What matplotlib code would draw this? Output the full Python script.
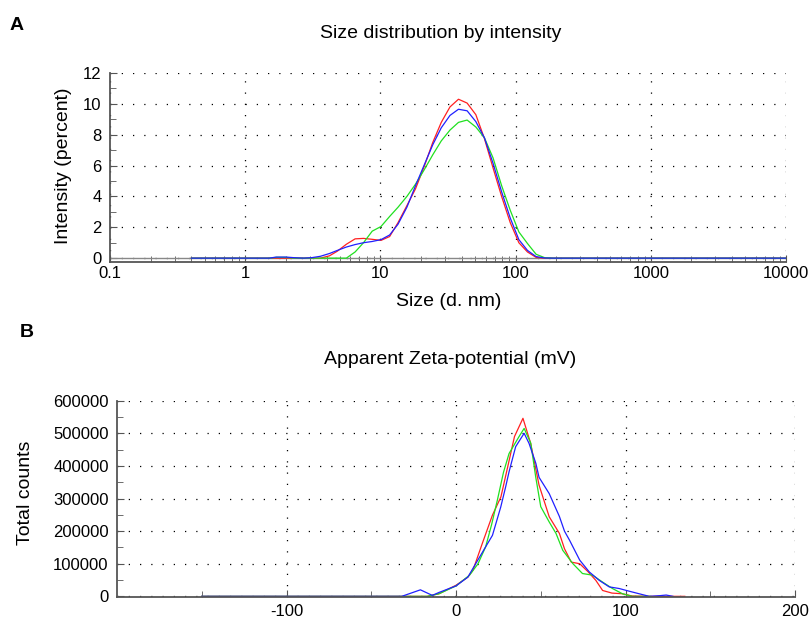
import numpy as np
import matplotlib
matplotlib.use("Agg")
import matplotlib.pyplot as plt
from matplotlib.ticker import FixedLocator, FuncFormatter

plt.rcParams['font.family'] = ['Liberation Sans', 'DejaVu Sans']
plt.rcParams['axes.unicode_minus'] = False

# --- A: size distribution by intensity (3 runs) ---
size_nm = [0.4, 1.5, 1.7, 2.0, 2.3, 2.7, 3.1, 3.6, 4.2, 4.8, 5.6, 6.5, 7.5, 8.7,
           10.1, 11.7, 13.5, 15.7, 18.2, 21.0, 24.4, 28.2, 32.7, 37.8, 43.8,
           50.8, 58.8, 68.1, 78.8, 91.3, 105.7, 122.4, 141.8, 164.2, 190.1, 10000]
int_red = [0, 0, 0, 0, 0, 0, 0, 0, 0.15, 0.45, 0.9, 1.25, 1.28, 1.22,
           1.15, 1.4, 2.3, 3.4, 4.5, 5.9, 7.5, 8.8, 9.8, 10.3, 10.05,
           9.3, 7.75, 5.85, 4.0, 2.3, 1.0, 0.4, 0.05, 0, 0, 0]
int_green = [0, 0, 0.05, 0.05, 0, 0, 0, 0, 0, 0, 0, 0.4, 1.0, 1.75,
             2.05, 2.7, 3.3, 4.0, 4.8, 5.7, 6.7, 7.6, 8.3, 8.8, 8.95,
             8.5, 7.8, 6.5, 4.7, 3.1, 1.7, 0.95, 0.25, 0.03, 0, 0]
int_blue = [0, 0, 0.07, 0.07, 0.03, 0, 0.03, 0.12, 0.3, 0.5, 0.72, 0.88, 1.0, 1.08,
            1.2, 1.5, 2.2, 3.3, 4.7, 6.0, 7.35, 8.45, 9.25, 9.65, 9.55,
            8.85, 7.8, 6.15, 4.3, 2.6, 1.2, 0.5, 0.1, 0.01, 0, 0]

# --- B: apparent zeta potential (3 runs) ---
zeta_red = [-150, -17, -10, 0, 7, 10, 15.5, 21.5, 26.5, 30.5, 34.5, 39.5, 44, 49,
            55, 61, 64, 68, 73, 78, 82.5, 86.5, 92, 98, 104, 114, 135]
counts_red = [0, 0, 8000, 34000, 59000, 80000, 162000, 249000, 305000, 397000,
              490000, 546000, 470000, 341000, 244000, 193000, 146000, 105000,
              100000, 75000, 49000, 18000, 10000, 8000, 1000, 0, 0]
zeta_green = [-150, -17, -10, 0, 8, 13, 17.5, 21, 24.4, 28, 31.3, 37.2, 40.2, 44.1,
              47, 50, 55, 59, 63, 69, 74.6, 80.5, 86.4, 92.3, 98.2, 104, 115]
counts_green = [0, 0, 8000, 32000, 65000, 100000, 152000, 220000, 295000, 380000,
                438000, 490000, 515000, 470000, 367000, 275000, 228000, 193000,
                141000, 100000, 70000, 65000, 44000, 24000, 8000, 0, 0]
zeta_blue = [-150, -32, -21, -14, -10, 0, 7, 11.6, 17.5, 21.5, 26.4, 29.3, 31.3,
             35.2, 40.2, 43.1, 47.1, 49, 55, 61, 64, 67, 73, 78.6, 84.5, 90.4,
             96.3, 102, 108, 114, 120, 124, 128]
counts_blue = [0, 0, 20000, 3000, 12000, 32000, 59000, 100000, 152000, 187000,
               274000, 336000, 382000, 459000, 500000, 469000, 408000, 365000,
               315000, 245000, 200000, 172000, 111000, 75000, 49000, 29000,
               24000, 16000, 8000, 0, 2000, 4000, 0]

RED, GREEN, BLUE = '#ff2020', '#20e020', '#2020ff'
SPINE = '#555555'
W, H = 809, 619


def style_axes(ax):
    for s in ['top', 'right']:
        ax.spines[s].set_visible(False)
    for s in ['left', 'bottom']:
        ax.spines[s].set_color(SPINE)
        ax.spines[s].set_linewidth(1.3)
    ax.tick_params(which='both', direction='in', color=SPINE, labelsize=12)
    ax.tick_params(which='major', length=5)
    ax.tick_params(which='minor', length=4)
    ax.grid(True, which='major', color='black', linestyle=(0, (1, 8)), linewidth=0.9)


fig = plt.figure(figsize=(W / 100, H / 100), dpi=100)

# panel A
ax1 = fig.add_axes([110 / W, 1 - 262 / H, 676 / W, 189 / H])
ax1.set_xscale('log')
ax1.set_xlim(0.1, 10000)
ax1.set_ylim(-0.25, 12)
ax1.axhline(0, color='#888888', lw=1.0)
ax1.plot(size_nm, int_red, color=RED, lw=0.9)
ax1.plot(size_nm, int_green, color=GREEN, lw=0.9)
ax1.plot(size_nm, int_blue, color=BLUE, lw=0.9)
style_axes(ax1)
ax1.xaxis.set_major_locator(FixedLocator([0.1, 1, 10, 100, 1000, 10000]))
ax1.xaxis.set_major_formatter(FuncFormatter(lambda v, p: f'{v:g}'))
ax1.yaxis.set_major_locator(FixedLocator([0, 2, 4, 6, 8, 10, 12]))
ax1.yaxis.set_minor_locator(FixedLocator([1, 3, 5, 7, 9, 11]))
ax1.tick_params(axis='x', pad=3)
ax1.tick_params(axis='y', pad=6)

# panel B
ax2 = fig.add_axes([117 / W, 1 - 597 / H, 678 / W, 196.3 / H])
ax2.set_xlim(-200, 200)
ax2.set_ylim(-2000, 600000)
ax2.plot(zeta_red, counts_red, color=RED, lw=0.9)
ax2.plot(zeta_green, counts_green, color=GREEN, lw=0.9)
ax2.plot(zeta_blue, counts_blue, color=BLUE, lw=0.9)
style_axes(ax2)
ax2.xaxis.set_major_locator(FixedLocator([-100, 0, 100, 200]))
ax2.xaxis.set_minor_locator(FixedLocator([-150, -50, 50, 150]))
ax2.yaxis.set_major_locator(FixedLocator(np.arange(0, 600001, 100000)))
ax2.yaxis.set_minor_locator(FixedLocator(np.arange(50000, 600000, 100000)))
ax2.yaxis.set_major_formatter(FuncFormatter(lambda v, p: f'{int(v)}'))
ax2.tick_params(axis='x', pad=5)
ax2.tick_params(axis='y', pad=6)

# texts
fig.text(17 / W, 1 - 26 / H, 'A', fontsize=14, weight='bold', ha='center', va='center')
fig.text(27 / W, 1 - 333 / H, 'B', fontsize=14, weight='bold', ha='center', va='center')
fig.text(441 / W, 1 - 33 / H, 'Size distribution by intensity', fontsize=14, ha='center', va='center')
fig.text(450 / W, 1 - 359 / H, 'Apparent Zeta-potential (mV)', fontsize=14, ha='center', va='center')
fig.text(449 / W, 1 - 301 / H, 'Size (d. nm)', fontsize=14, ha='center', va='center')
fig.text(63 / W, 1 - 166 / H, 'Intensity (percent)', fontsize=14, rotation=90, ha='center', va='center')
fig.text(26 / W, 1 - 493 / H, 'Total counts', fontsize=14, rotation=90, ha='center', va='center')

fig.savefig('out.png', dpi=100)
